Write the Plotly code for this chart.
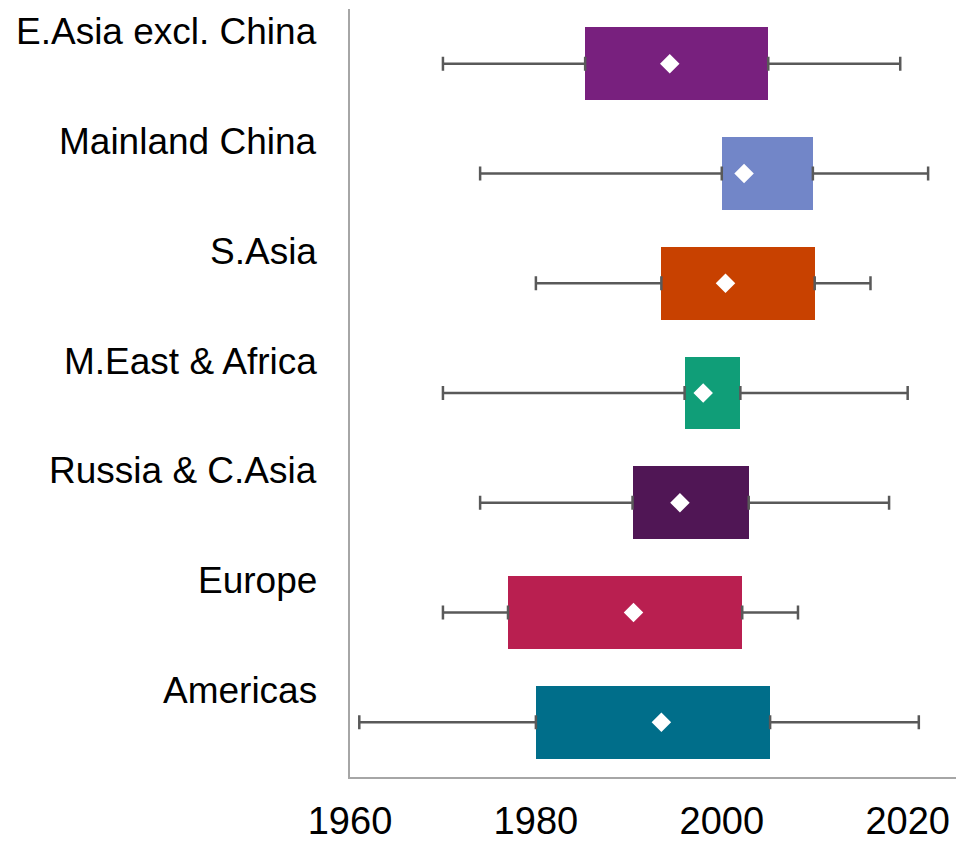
import plotly.graph_objects as go

# Regions from top to bottom
regions = ["E.Asia excl. China", "Mainland China", "S.Asia", "M.East & Africa",
           "Russia & C.Asia", "Europe", "Americas"]

# Five-number style summary per region (years)
whisker_low = [1970.0, 1974.0, 1980.0, 1970.0, 1974.0, 1970.0, 1961.0]
q1 =          [1985.3, 2000.0, 1993.5, 1996.0, 1990.4, 1977.0, 1980.0]
mean =        [1994.4, 2002.4, 2000.4, 1998.0, 1995.5, 1990.5, 1993.5]
q3 =          [2005.0, 2009.8, 2010.0, 2002.0, 2002.9, 2002.2, 2005.2]
whisker_high = [2019.2, 2022.2, 2016.0, 2020.0, 2018.0, 2008.2, 2021.2]

colors = ["#78207E", "#7286C8", "#C84100", "#109E78", "#501655", "#B91F50", "#006E8A"]

tick_vals = [1960, 1980, 2000, 2020]
tick_text = ["1960", "1980", "2000", "2020"]

FONT = "Liberation Sans, Arial, sans-serif"
WHISKER = "#595959"

fig = go.Figure()

# Lower whiskers: point at Q1, error bar reaching back to the low end
fig.add_trace(go.Scatter(
    x=q1, y=regions, mode="markers",
    marker=dict(size=1, color="rgba(0,0,0,0)"),
    error_x=dict(type="data", symmetric=False,
                 array=[0] * len(regions),
                 arrayminus=[a - b for a, b in zip(q1, whisker_low)],
                 color=WHISKER, thickness=2.5, width=7),
    showlegend=False, hoverinfo="skip"))

# Upper whiskers: point at Q3, error bar reaching to the high end
fig.add_trace(go.Scatter(
    x=q3, y=regions, mode="markers",
    marker=dict(size=1, color="rgba(0,0,0,0)"),
    error_x=dict(type="data", symmetric=False,
                 array=[a - b for a, b in zip(whisker_high, q3)],
                 arrayminus=[0] * len(regions),
                 color=WHISKER, thickness=2.5, width=7),
    showlegend=False, hoverinfo="skip"))

# Interquartile boxes
fig.add_trace(go.Bar(
    y=regions, x=[b - a for a, b in zip(q1, q3)], base=q1,
    orientation="h", width=0.665,
    marker=dict(color=colors, line=dict(width=0)),
    showlegend=False))

# Means
fig.add_trace(go.Scatter(
    x=mean, y=regions, mode="markers",
    marker=dict(symbol="diamond", size=15, color="white", line=dict(width=0)),
    showlegend=False))

# Region labels sit above each box
for r in regions:
    fig.add_annotation(
        x=0, xref="paper", y=r, yref="y",
        text=r, showarrow=False, xanchor="right", yanchor="middle",
        xshift=-31, yshift=32,
        font=dict(family=FONT, size=37, color="#000000"))

fig.update_layout(
    width=956, height=847,
    margin=dict(l=350, r=0, t=9, b=70),
    paper_bgcolor="white", plot_bgcolor="white",
    bargap=0,
    xaxis=dict(range=[1960, 2025.2], tickvals=tick_vals, ticktext=tick_text,
               showgrid=False, zeroline=False, automargin=False,
               showline=True, linecolor="#A6A6A6", linewidth=2,
               ticks="", ticklabelstandoff=9,
               tickfont=dict(family=FONT, size=38, color="#000000")),
    yaxis=dict(type="category", categoryorder="array", categoryarray=regions,
               autorange="reversed", showticklabels=False, automargin=False,
               showgrid=False, zeroline=False,
               showline=True, linecolor="#A6A6A6", linewidth=2, ticks=""),
)

fig.write_html("out.html")
